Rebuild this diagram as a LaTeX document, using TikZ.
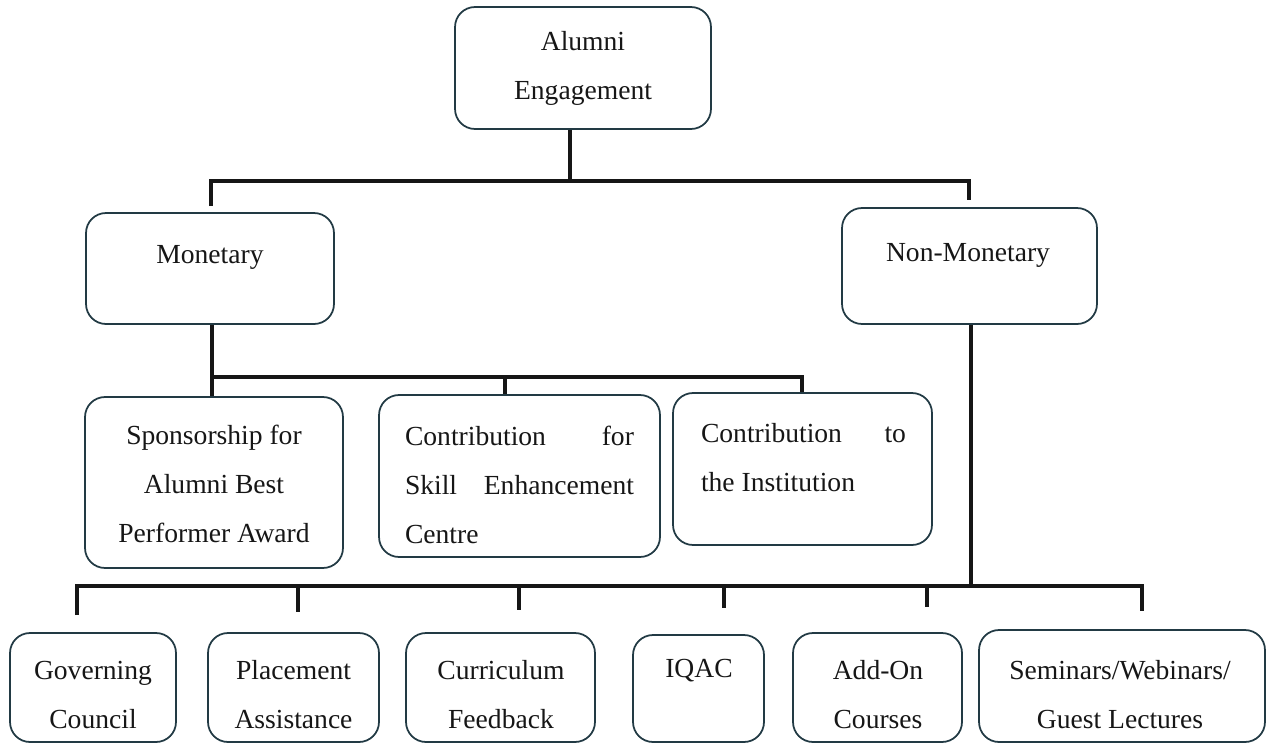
\documentclass[tikz,border=0pt]{standalone}
\usepackage{fontspec}
\setmainfont{Liberation Serif}
\usetikzlibrary{positioning,calc}
\definecolor{boxline}{HTML}{223A44}
\definecolor{ink}{HTML}{161616}

\begin{document}
\begin{tikzpicture}[x=0.02cm,y=-0.02cm,
        box/.style={draw=boxline,line width=1pt,rounded corners=0.4cm,inner sep=0pt},
        txt/.style={text=ink,align=center,inner sep=0pt,font=\fontsize{15.7}{27.9}\selectfont},
        conn/.style={draw=ink,line width=2.6pt}]
            \useasboundingbox (0,0) rectangle (1267,744);

            % boxes
            \node[box,minimum width=5.12cm,minimum height=2.44cm] (top) at (583,68) {};
            \node[box,minimum width=4.96cm,minimum height=2.22cm] (mon) at (210,268.5) {};
            \node[box,minimum width=5.10cm,minimum height=2.32cm] (nonmon) at (969.5,266) {};
            \node[box,minimum width=5.16cm,minimum height=3.42cm] (spons) at (214,482.5) {};
            \node[box,minimum width=5.62cm,minimum height=3.24cm] (skill) at (519.5,476) {};
            \node[box,minimum width=5.18cm,minimum height=3.04cm] (inst) at (802.5,469) {};
            \node[box,minimum width=3.32cm,minimum height=2.18cm] (gov) at (93,687.5) {};
            \node[box,minimum width=3.42cm,minimum height=2.18cm] (place) at (293.5,687.5) {};
            \node[box,minimum width=3.78cm,minimum height=2.18cm] (curr) at (500.5,687.5) {};
            \node[box,minimum width=2.62cm,minimum height=2.14cm] (iqac) at (698.5,688.5) {};
            \node[box,minimum width=3.38cm,minimum height=2.18cm] (addon) at (877.5,687.5) {};
            \node[box,minimum width=5.72cm,minimum height=2.24cm] (sem) at (1122,686) {};

            % texts
            \node[txt] (topT) at (583,68) {Alumni\\Engagement};
            \node[txt] (monT) at (210,257) {Monetary};
            \node[txt] (nonmonT) at (968,255) {Non-Monetary};
            \node[txt] (sponsT) at (214,484) {Sponsorship for\\Alumni Best\\Performer Award};
            \node[txt,align=left] (skillT) at (519.5,485) {\makebox[4.58cm][s]{Contribution\hfill for}\\
                \makebox[4.58cm][s]{Skill\hfill Enhancement}\\\makebox[4.58cm][l]{Centre}};
            \node[txt,align=left] (instT) at (803.5,458) {\makebox[4.1cm][s]{Contribution\hfill to}\\
                \makebox[4.1cm][l]{the Institution}};
            \node[txt] (govT) at (93,695) {Governing\\Council};
            \node[txt] (placeT) at (293.5,695) {Placement\\Assistance};
            \node[txt] (currT) at (501,695) {Curriculum\\Feedback};
            \node[txt] (iqacT) at (699,671) {IQAC};
            \node[txt] (addonT) at (878,695) {Add-On\\Courses};
            \node[txt] (semT) at (1120,695) {Seminars/Webinars/\\Guest Lectures};

            % first level
            \coordinate (j1) at (570,181);
            \coordinate (monTick) at (211,206);
            \coordinate (nonTick) at (969,200);
            \draw[conn] (top.south -| j1) -- (j1);
            \draw[conn] (monTick) -- (monTick |- j1) -- (nonTick |- j1) -- (nonTick);

            % monetary
            \coordinate (j2) at (212,377);
            \coordinate (m1) at (505,377);
            \coordinate (m2) at (802,377);
            \draw[conn] (mon.south -| j2) -- (spons.north -| j2);
            \draw[conn] (j2) -- (m2) -- (m2 |- inst.north);
            \draw[conn] (m1) -- (m1 |- skill.north);

            % non-monetary
            \coordinate (j3) at (971,586);
            \draw[conn] (nonmon.south -| j3) -- (j3);
            \foreach \x/\y [count=\i] in {77/615,298/612,519/610,724/608,927/607,1142/611} {
                \coordinate (t\i) at (\x,\y); }
            \draw[conn] (t1) -- (t1 |- j3) -- (t6 |- j3) -- (t6);
            \foreach \i in {2,...,5} {
                \draw[conn] (t\i |- j3) -- (t\i); }
        \end{tikzpicture}
\end{document}
